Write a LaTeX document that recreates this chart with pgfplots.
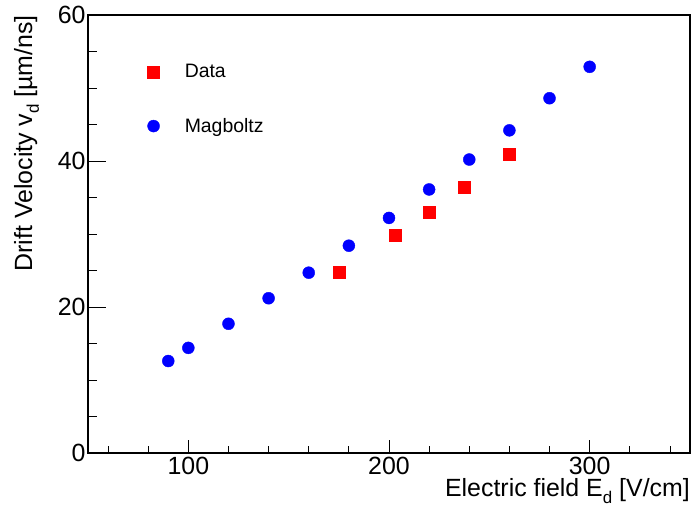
\documentclass[border=0pt]{standalone}
\usepackage{pgfplots}
\pgfplotsset{compat=1.18}
\usepackage{fontspec}
\setmainfont{Liberation Sans}
\begin{document}
\begin{tikzpicture}
\useasboundingbox (-88bp,-55bp) rectangle (605bp,453bp);
\begin{axis}[
  at={(0,0)}, anchor=south west,
  scale only axis, width=602bp, height=438bp,
  xmin=50, xmax=350, ymin=0, ymax=60,
  xtick={100,200,300}, ytick={0,20,40,60},
  minor xtick={60,80,120,140,160,180,220,240,260,280,320,340},
  minor ytick={5,10,15,25,30,35,45,50,55},
  xtick pos=left, ytick pos=left, tick align=inside,
  x tick style={/pgfplots/major tick length=13bp, /pgfplots/minor tick length=6.5bp},
  y tick style={/pgfplots/major tick length=18bp, /pgfplots/minor tick length=9bp},
  tick style={line width=0.8bp, black},
  axis line style={line width=1.2bp, black},
  /pgf/number format/assume math mode=true,
  ticklabel style={font=\fontsize{25}{29}\selectfont},
  xticklabel style={yshift=-1bp},
  yticklabel style={xshift=1bp},
  label style={font=\fontsize{25}{29}\selectfont, inner sep=0pt},
  xlabel={Electric field E\raisebox{-0.5ex}{\fontsize{17}{17}\selectfont d} [V/cm]},
  xlabel style={at={(axis description cs:1,-0.058)}, anchor=north east},
  ylabel={Drift Velocity v\raisebox{-0.5ex}{\fontsize{17}{17}\selectfont d} [µm/ns]},
  ylabel style={at={(axis description cs:-0.102,1)}, anchor=east},
  legend style={draw=none, fill=none, at={(axis cs:78,53.8)}, anchor=north west,
    font=\fontsize{19.5}{23}\selectfont, row sep=35bp,
    /tikz/every even column/.append style={column sep=0bp}},
  legend cell align=left,
  legend image code/.code={\draw[#1] plot coordinates {(0bp,0bp)};\path (-6bp,0) (29bp,0);},
]
\addplot[only marks, mark=square*, mark size=6bp, color=red] coordinates {
(175,24.7) (203,29.9) (220,33.0) (237.5,36.4) (260,41.0)
};
\addlegendentry{Data}
\addplot[only marks, mark=*, mark size=6bp, color=blue] coordinates {
(90,12.6) (100,14.4) (120,17.7) (140,21.2) (160,24.7) (180,28.4)
(200,32.2) (220,36.1) (240,40.2) (260,44.2) (280,48.6) (300,52.9)
};
\addlegendentry{Magboltz}
\end{axis}
\end{tikzpicture}
\end{document}
